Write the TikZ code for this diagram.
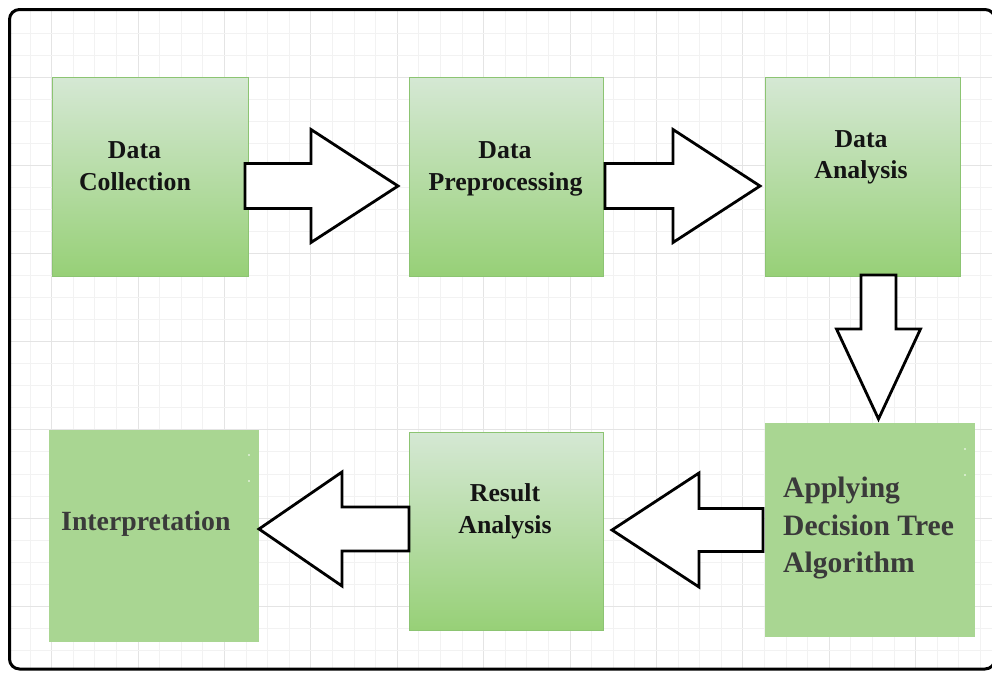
\documentclass[tikz,border=0pt]{standalone}
\usepackage{fontspec}
\setmainfont{Liberation Serif}
\usetikzlibrary{calc}

\definecolor{gtop}{HTML}{D5E8D4}
\definecolor{gbot}{HTML}{97D077}
\definecolor{gedge}{HTML}{8CC472}
\definecolor{gflat}{HTML}{A9D692}
\definecolor{gridminor}{HTML}{F2F2F2}
\definecolor{gridmajor}{HTML}{E4E4E4}
\definecolor{inkdark}{HTML}{141414}
\definecolor{inkgray}{HTML}{3A3A3A}

\tikzset{
  gradbox/.style={draw=gedge, line width=0.8pt, top color=gtop, bottom color=gbot,
    inner sep=0pt, outer sep=0pt},
  flatbox/.style={fill=gflat, inner sep=0pt, outer sep=0pt},
  lbl/.style={inner sep=0pt, text=inkdark, font=\bfseries\fontsize{25.8}{30}\selectfont},
  biglbl/.style={inner sep=0pt, text=inkgray},
  arrowline/.style={draw=black, fill=white, line width=2.8pt, line join=miter},
  pics/blockarrow/.style n args={4}{code={
    % #1 shaft length, #2 total length, #3 shaft half width, #4 head half width
    \draw[arrowline] (0,-#3) -- (#1,-#3) -- (#1,-#4) -- (#2,0)
      -- (#1,#4) -- (#1,#3) -- (0,#3) -- cycle;
  }},
}

\begin{document}
\begin{tikzpicture}[x=1pt, y=-1pt]
\useasboundingbox (0,0) rectangle (992,672);

% squared paper behind the flow
\begin{scope}
  \clip[rounded corners=10pt] (9.5,9.5) rectangle (995,669);
  \foreach \k in {-2,...,43} {
    \pgfmathsetmacro\gx{51.6+21.6*\k}
    \pgfmathtruncatemacro\isMajor{mod(\k+400,4)==0}
    \ifnum\isMajor=1
      \draw[gridmajor, line width=0.9pt] (\gx,0) -- (\gx,672);
    \else
      \draw[gridminor, line width=0.8pt] (\gx,0) -- (\gx,672);
    \fi
  }
  \foreach \k in {-4,...,27} {
    \pgfmathsetmacro\gy{77+22.05*\k}
    \pgfmathtruncatemacro\isMajor{mod(\k+400,4)==0}
    \ifnum\isMajor=1
      \draw[gridmajor, line width=0.9pt] (0,\gy) -- (992,\gy);
    \else
      \draw[gridminor, line width=0.8pt] (0,\gy) -- (992,\gy);
    \fi
  }
\end{scope}

% outer frame
\draw[line width=3pt, rounded corners=10pt] (9.5,9.5) rectangle (995,669);

% process stages
\node[gradbox, minimum width=196pt, minimum height=199pt] (dc) at (150,176.5) {};
\node[gradbox, minimum width=194pt, minimum height=199pt] (dp) at (506,176.5) {};
\node[gradbox, minimum width=195pt, minimum height=199pt] (da) at (862.5,176.5) {};
\node[flatbox, minimum width=210pt, minimum height=214pt] (ad) at (870,530) {};
\node[gradbox, minimum width=194pt, minimum height=198pt] (ra) at (506,531) {};
\node[flatbox, minimum width=210pt, minimum height=212pt] (in) at (154,536) {};

% tiny specks on the flat boxes
\fill[white] (965,449) circle (0.9);
\fill[white] (965,475) circle (0.9);
\fill[white] (249,455) circle (0.9);
\fill[white] (249,481) circle (0.9);

% stage labels
\node[lbl, anchor=base] (dcA) at (134.5,158) {Data};
\node[lbl, anchor=base] (dcB) at (135,190) {Collection};
\node[lbl, anchor=base] (dpA) at (505,158) {Data};
\node[lbl, anchor=base] (dpB) at (505.5,190) {Preprocessing};
\node[lbl, anchor=base] (daA) at (861,147) {Data};
\node[lbl, anchor=base] (daB) at (861,178) {Analysis};
\node[lbl, anchor=base] (raA) at (505,501) {Result};
\node[lbl, anchor=base] (raB) at (505,533) {Analysis};
\node[biglbl, anchor=base west, font=\bfseries\fontsize{29.6}{35}\selectfont] (adA) at (783,497) {Applying};
\node[biglbl, anchor=base west, font=\bfseries\fontsize{29.6}{35}\selectfont] (adB) at (783,535) {Decision Tree};
\node[biglbl, anchor=base west, font=\bfseries\fontsize{27.8}{33}\selectfont] (inA) at (61,530) {Interpretation};
\node[biglbl, anchor=base west, font=\bfseries\fontsize{29.6}{35}\selectfont] (adC) at (783,572) {Algorithm};

% block arrows between the stages
\pic at ($(dc.east)+(-3,9.5)$) {blockarrow={66}{153}{22.5}{56.5}};
\pic at ($(dp.east)+(2,9.5)$) {blockarrow={68}{155}{22.5}{56.5}};
\pic[rotate=-90] at ($(da.south)+(16,-1)$) {blockarrow={54}{144}{17.5}{42}};
\pic[rotate=180] at ($(ad.west)+(-2,0)$) {blockarrow={64}{151}{21.5}{57}};
\pic[rotate=180] at ($(ra.west)+(0,-2)$) {blockarrow={67}{150}{22}{57}};
\end{tikzpicture}
\end{document}
